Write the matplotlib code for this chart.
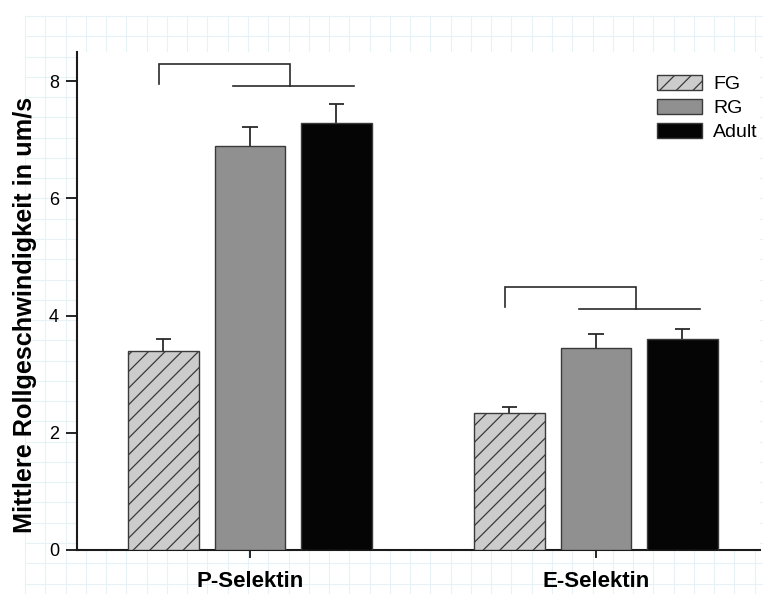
import numpy as np
import matplotlib
matplotlib.use("Agg")
import matplotlib.pyplot as plt
from matplotlib.patches import Patch

plt.rcParams['font.family'] = ['Liberation Sans', 'DejaVu Sans']
plt.rcParams['hatch.linewidth'] = 0.9

# mean rolling speed (um/s) and error per group
selektine = ["P-Selektin", "E-Selektin"]
gruppen = ["FG", "RG", "Adult"]
mittelwerte = {
    "FG": [3.40, 2.34],
    "RG": [6.89, 3.45],
    "Adult": [7.29, 3.60],
}
fehler = {
    "FG": [0.20, 0.10],
    "RG": [0.33, 0.24],
    "Adult": [0.32, 0.17],
}
y_ticks = [0, 2, 4, 6, 8]

# significance brackets per selectin
klammer_x_links = [0.737, 1.737]
klammer_x_mitte = [1.116, 2.116]
klammer_unten_von = [0.951, 1.951]
klammer_unten_bis = [1.30, 2.30]
klammer_oben_y = [8.29, 4.49]
klammer_unten_y = [7.92, 4.11]
klammer_bein_y = [7.95, 4.15]

farben = {"FG": "#cccccc", "RG": "#909090", "Adult": "#050505"}
schraffur = {"FG": "//", "RG": None, "Adult": None}
versatz = {"FG": -0.25, "RG": 0.0, "Adult": 0.25}
breite = 0.205
kappe = 0.022

W, H = 763, 594
fig = plt.figure(figsize=(W / 100, H / 100), dpi=100)

# faint page grid behind everything
bg = fig.add_axes([0, 0, 1, 1], zorder=-10)
bg.set_xlim(0, W)
bg.set_ylim(H, 0)
bg.axis("off")
for gx in np.arange(25, W, 20.27):
    bg.axvline(gx, ymin=0, ymax=1 - 16 / H, color="#e6f2f5", lw=0.8)
for gy in np.arange(16, H, 20.27):
    bg.axhline(gy, xmin=25 / W, xmax=1, color="#e6f2f5", lw=0.8)

ax = fig.add_axes([77 / W, 44 / H, 683 / W, 498 / H])
ax.set_facecolor("white")

pos = np.array([1.0, 2.0])
for g in gruppen:
    x = pos + versatz[g]
    oben = np.array(mittelwerte[g]) + np.array(fehler[g])
    ax.bar(x, mittelwerte[g], width=breite, color=farben[g],
           edgecolor="#3a3a3a", linewidth=1.0, hatch=schraffur[g], zorder=3)
    # upper error whisker only
    ax.vlines(x, mittelwerte[g], oben, color="#2a2a2a", lw=1.3, zorder=2)
    ax.hlines(oben, x - kappe, x + kappe, color="#2a2a2a", lw=1.3, zorder=2)

for i in range(2):
    ax.plot([klammer_x_links[i], klammer_x_links[i], klammer_x_mitte[i], klammer_x_mitte[i]],
            [klammer_bein_y[i], klammer_oben_y[i], klammer_oben_y[i], klammer_unten_y[i]],
            color="#2a2a2a", lw=1.2, solid_joinstyle="miter")
    ax.plot([klammer_unten_von[i], klammer_unten_bis[i]],
            [klammer_unten_y[i], klammer_unten_y[i]], color="#2a2a2a", lw=1.2)

ax.set_xlim(0.5, 2.474)
ax.set_ylim(0, 8.5)
ax.set_yticks(y_ticks)
ax.set_xticks(pos)
ax.set_xticklabels(selektine, fontsize=16, fontweight="bold")
ax.tick_params(axis="y", direction="out", length=8, width=1.2, labelsize=13, pad=5)
ax.tick_params(axis="x", direction="out", length=6, width=1.2, pad=9)
for s in ["top", "right"]:
    ax.spines[s].set_visible(False)
for s in ["left", "bottom"]:
    ax.spines[s].set_linewidth(1.5)
    ax.spines[s].set_color("#1a1a1a")
ax.set_ylabel("Mittlere Rollgeschwindigkeit in um/s", fontsize=18.2,
              fontweight="bold")
ax.yaxis.set_label_coords(-40 / 683, 0.5 - 14 / 498)

handles = [Patch(facecolor=farben[g], edgecolor="#3a3a3a", hatch=schraffur[g], label=g)
           for g in gruppen]
ax.legend(handles=handles, loc="upper left", bbox_to_anchor=(572 / 683, 0.969),
          frameon=False, fontsize=14, handlelength=2.3, handleheight=0.8,
          handletextpad=0.6, labelspacing=0.3, borderaxespad=0)

fig.savefig("out.png", dpi=100)
